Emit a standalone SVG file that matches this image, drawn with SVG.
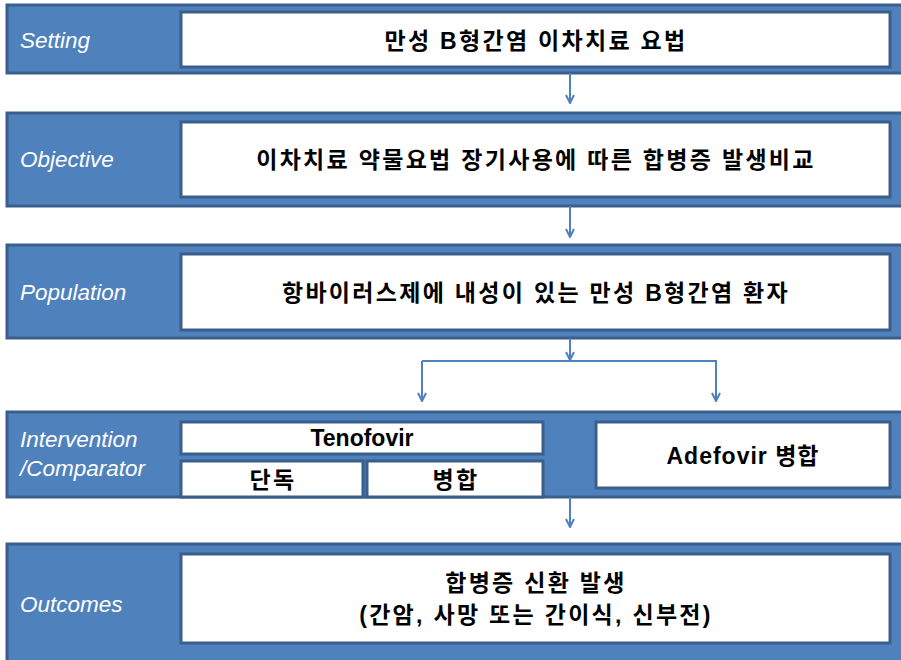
<svg xmlns="http://www.w3.org/2000/svg" width="901" height="660" viewBox="0 0 901 660">
<defs>
<style>
.band{fill:#4F81BD;stroke:#3A5F8C;stroke-width:3}
.box{fill:#FFFFFF;stroke:#3A5F8C;stroke-width:3}
.lbl{font-family:"Liberation Sans",Arial,sans-serif;font-style:italic;font-size:22.5px;fill:#FFFFFF}
.txt{font-family:"Liberation Sans","Noto Sans CJK KR",sans-serif;font-weight:bold;font-size:23px;fill:#000000;text-anchor:middle}
.ko{letter-spacing:2.3px}
.conn{fill:none;stroke:#4F81BD;stroke-width:2}
</style>
<marker id="arr" viewBox="0 0 10 10" refX="9" refY="5" markerWidth="10" markerHeight="10" markerUnits="userSpaceOnUse" orient="auto">
<path d="M1,1 L9,5 L1,9" fill="none" stroke="#4F81BD" stroke-width="2"/>
</marker>
</defs>
<rect width="901" height="660" fill="#FFFFFF"/>
<g id="setting">
<rect class="band" x="7" y="5" width="900" height="68"/>
<text class="lbl" x="20" y="48">Setting</text>
<rect class="box" x="181" y="12" width="709" height="55"/>
<text class="txt ko" x="536" y="49">만성 B형간염 이차치료 요법</text>
</g>
<g id="objective">
<rect class="band" x="7" y="113" width="900" height="93"/>
<text class="lbl" x="20" y="167">Objective</text>
<rect class="box" x="181" y="122" width="709" height="75"/>
<text class="txt ko" x="536" y="168">이차치료 약물요법 장기사용에 따른 합병증 발생비교</text>
</g>
<g id="population">
<rect class="band" x="7" y="245" width="900" height="93"/>
<text class="lbl" x="20" y="300">Population</text>
<rect class="box" x="181" y="254" width="709" height="76"/>
<text class="txt ko" x="536" y="301">항바이러스제에 내성이 있는 만성 B형간염 환자</text>
</g>
<g id="intervention">
<rect class="band" x="7" y="412" width="900" height="85"/>
<text class="lbl" x="20" y="447">Intervention</text>
<text class="lbl" x="20" y="476">/Comparator</text>
</g>
<g id="tenofovir">
<rect class="box" x="181" y="422" width="362" height="32"/>
<text class="txt" x="362" y="446">Tenofovir</text>
</g>
<g id="tenofovir-mono">
<rect class="box" x="181" y="461" width="182" height="36"/>
<text class="txt ko" x="273" y="488">단독</text>
</g>
<g id="tenofovir-combo">
<rect class="box" x="367" y="461" width="176" height="36"/>
<text class="txt ko" x="456" y="488">병합</text>
</g>
<g id="adefovir">
<rect class="box" x="596" y="422" width="294" height="66"/>
<text class="txt" x="743" y="464" style="letter-spacing:1px">Adefovir 병합</text>
</g>
<g id="outcomes">
<rect class="band" x="7" y="544" width="900" height="130"/>
<text class="lbl" x="20" y="612">Outcomes</text>
<rect class="box" x="181" y="554" width="709" height="89"/>
<text class="txt ko" x="536" y="591">합병증 신환 발생</text>
<text class="txt ko" x="536" y="623">(간암, 사망 또는 간이식, 신부전)</text>
</g>
<g id="connectors">
<line class="conn" x1="570" y1="73" x2="570" y2="103" marker-end="url(#arr)"/>
<line class="conn" x1="570" y1="206" x2="570" y2="237" marker-end="url(#arr)"/>
<line class="conn" x1="570" y1="338" x2="570" y2="360" marker-end="url(#arr)"/>
<polyline class="conn" points="422,361 716,361 716,401" marker-end="url(#arr)"/>
<line class="conn" x1="422" y1="361" x2="422" y2="401" marker-end="url(#arr)"/>
<line class="conn" x1="570" y1="497" x2="570" y2="527" marker-end="url(#arr)"/>
</g>
</svg>
